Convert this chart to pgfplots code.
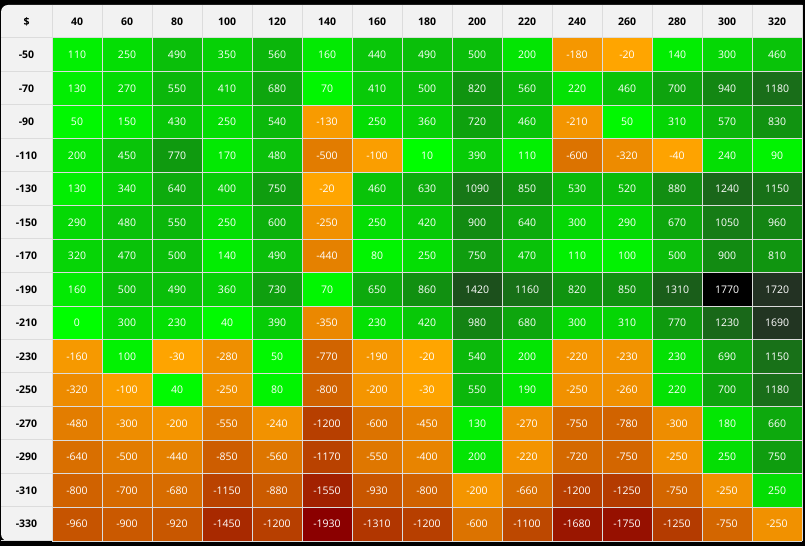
\documentclass[border=0pt]{standalone}
\usepackage{pgfplots}
\pgfplotsset{compat=1.18}
\usepackage{fontspec}
\setmainfont{Open Sans}
\definecolor{hdr}{RGB}{242,242,242}
\definecolor{gridc}{RGB}{220,220,220}
\begin{document}
\begin{tikzpicture}[x=1bp,y=1bp]
\fill[black] (0,0) rectangle (805,546);
\fill[hdr] (802,541) -- (8,541) arc[start angle=90,end angle=180,radius=7] -- (1,12) arc[start angle=180,end angle=270,radius=7] -- (802,5) -- cycle;
\begin{axis}[
  at={(52bp,5bp)}, anchor=south west,
  scale only axis, width=750bp, height=503bp,
  xmin=-0.5, xmax=14.5, ymin=-0.5, ymax=14.5,
  y dir=reverse,
  axis line style={draw=none},
  major tick length=0pt, minor tick length=0pt,
  xtick={0,...,14},
  xticklabels={40,60,80,100,120,140,160,180,200,220,240,260,280,300,320},
  xticklabel pos=top,
  ytick={0,...,14},
  yticklabels={-50,-70,-90,-110,-130,-150,-170,-190,-210,-230,-250,-270,-290,-310,-330},
  tick label style={font=\fontsize{10.5bp}{12bp}\selectfont\bfseries, text=black},
  xticklabel style={anchor=center, yshift=16.5bp},
  yticklabel style={anchor=center, xshift=-25.5bp},
  minor xtick={-0.5,0.5,...,14.5},
  minor ytick={-0.5,0.5,...,14.5},
  xminorgrids, yminorgrids,
  minor grid style={draw=gridc, line width=1bp},
  axis on top,
  point meta min=-1930, point meta max=1770,
  colormap={heat}{
    rgb255(0pt)=(139,0,0);
    rgb255(1910pt)=(255,165,0);
    rgb255(1920pt)=(255,165,0);
    rgb255(1930pt)=(0,255,0);
    rgb255(2180pt)=(4,222,4);
    rgb255(2430pt)=(10,190,10);
    rgb255(2730pt)=(16,150,16);
    rgb255(3130pt)=(25,108,25);
    rgb255(3350pt)=(28,80,28);
    rgb255(3650pt)=(35,50,35);
    rgb255(3700pt)=(0,0,0)
  },
]
\addplot[matrix plot*, mesh/cols=15, mesh/rows=15, point meta=explicit,
  nodes near coords={\pgfmathprintnumber[fixed,precision=0,1000 sep={},assume math mode=true]{\pgfplotspointmeta}},
  every node near coord/.append style={anchor=center, text=white, font=\fontsize{10.5bp}{12bp}\selectfont}]
coordinates {
(0,0)[110] (1,0)[250] (2,0)[490] (3,0)[350] (4,0)[560] (5,0)[160] (6,0)[440] (7,0)[490] (8,0)[500] (9,0)[200] (10,0)[-180] (11,0)[-20] (12,0)[140] (13,0)[300] (14,0)[460]
(0,1)[130] (1,1)[270] (2,1)[550] (3,1)[410] (4,1)[680] (5,1)[70] (6,1)[410] (7,1)[500] (8,1)[820] (9,1)[560] (10,1)[220] (11,1)[460] (12,1)[700] (13,1)[940] (14,1)[1180]
(0,2)[50] (1,2)[150] (2,2)[430] (3,2)[250] (4,2)[540] (5,2)[-130] (6,2)[250] (7,2)[360] (8,2)[720] (9,2)[460] (10,2)[-210] (11,2)[50] (12,2)[310] (13,2)[570] (14,2)[830]
(0,3)[200] (1,3)[450] (2,3)[770] (3,3)[170] (4,3)[480] (5,3)[-500] (6,3)[-100] (7,3)[10] (8,3)[390] (9,3)[110] (10,3)[-600] (11,3)[-320] (12,3)[-40] (13,3)[240] (14,3)[90]
(0,4)[130] (1,4)[340] (2,4)[640] (3,4)[400] (4,4)[750] (5,4)[-20] (6,4)[460] (7,4)[630] (8,4)[1090] (9,4)[850] (10,4)[530] (11,4)[520] (12,4)[880] (13,4)[1240] (14,4)[1150]
(0,5)[290] (1,5)[480] (2,5)[550] (3,5)[250] (4,5)[600] (5,5)[-250] (6,5)[250] (7,5)[420] (8,5)[900] (9,5)[640] (10,5)[300] (11,5)[290] (12,5)[670] (13,5)[1050] (14,5)[960]
(0,6)[320] (1,6)[470] (2,6)[500] (3,6)[140] (4,6)[490] (5,6)[-440] (6,6)[80] (7,6)[250] (8,6)[750] (9,6)[470] (10,6)[110] (11,6)[100] (12,6)[500] (13,6)[900] (14,6)[810]
(0,7)[160] (1,7)[500] (2,7)[490] (3,7)[360] (4,7)[730] (5,7)[70] (6,7)[650] (7,7)[860] (8,7)[1420] (9,7)[1160] (10,7)[820] (11,7)[850] (12,7)[1310] (13,7)[1770] (14,7)[1720]
(0,8)[0] (1,8)[300] (2,8)[230] (3,8)[40] (4,8)[390] (5,8)[-350] (6,8)[230] (7,8)[420] (8,8)[980] (9,8)[680] (10,8)[300] (11,8)[310] (12,8)[770] (13,8)[1230] (14,8)[1690]
(0,9)[-160] (1,9)[100] (2,9)[-30] (3,9)[-280] (4,9)[50] (5,9)[-770] (6,9)[-190] (7,9)[-20] (8,9)[540] (9,9)[200] (10,9)[-220] (11,9)[-230] (12,9)[230] (13,9)[690] (14,9)[1150]
(0,10)[-320] (1,10)[-100] (2,10)[40] (3,10)[-250] (4,10)[80] (5,10)[-800] (6,10)[-200] (7,10)[-30] (8,10)[550] (9,10)[190] (10,10)[-250] (11,10)[-260] (12,10)[220] (13,10)[700] (14,10)[1180]
(0,11)[-480] (1,11)[-300] (2,11)[-200] (3,11)[-550] (4,11)[-240] (5,11)[-1200] (6,11)[-600] (7,11)[-450] (8,11)[130] (9,11)[-270] (10,11)[-750] (11,11)[-780] (12,11)[-300] (13,11)[180] (14,11)[660]
(0,12)[-640] (1,12)[-500] (2,12)[-440] (3,12)[-850] (4,12)[-560] (5,12)[-1170] (6,12)[-550] (7,12)[-400] (8,12)[200] (9,12)[-220] (10,12)[-720] (11,12)[-750] (12,12)[-250] (13,12)[250] (14,12)[750]
(0,13)[-800] (1,13)[-700] (2,13)[-680] (3,13)[-1150] (4,13)[-880] (5,13)[-1550] (6,13)[-930] (7,13)[-800] (8,13)[-200] (9,13)[-660] (10,13)[-1200] (11,13)[-1250] (12,13)[-750] (13,13)[-250] (14,13)[250]
(0,14)[-960] (1,14)[-900] (2,14)[-920] (3,14)[-1450] (4,14)[-1200] (5,14)[-1930] (6,14)[-1310] (7,14)[-1200] (8,14)[-600] (9,14)[-1100] (10,14)[-1680] (11,14)[-1750] (12,14)[-1250] (13,14)[-750] (14,14)[-250]
};
\end{axis}
\foreach \i in {0,...,15} \draw[gridc, line width=1bp] ({52+50*\i},541) -- ({52+50*\i},508);
\foreach \j in {0,...,15} \draw[gridc, line width=1bp] (1,{508-33.5*\j}) -- (52,{508-33.5*\j});
\draw[gridc, line width=1bp] (52,541) -- (52,5);
\node[anchor=center, font=\fontsize{10.5bp}{12bp}\selectfont\bfseries, text=black] at (26.5,524.5) {\$};
\pgfresetboundingbox
\useasboundingbox (0,0) rectangle (805,546);
\end{tikzpicture}
\end{document}
